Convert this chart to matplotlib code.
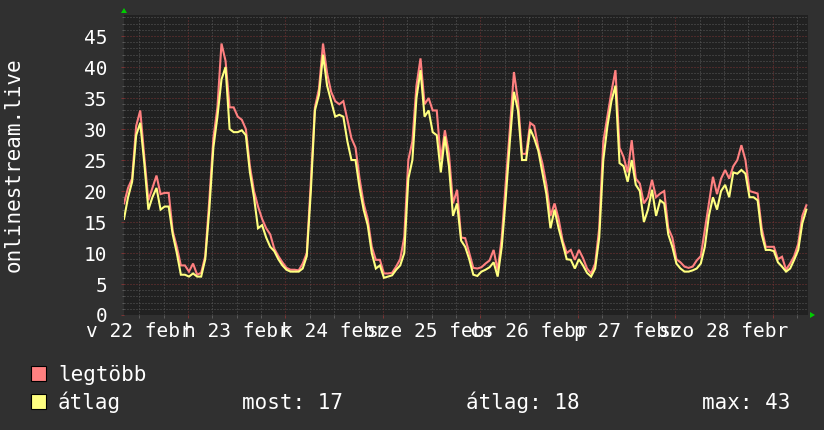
import numpy as np
import matplotlib
matplotlib.use("Agg")
import matplotlib.pyplot as plt
from matplotlib.patches import Rectangle, Polygon
from matplotlib.ticker import MultipleLocator, FixedLocator, NullFormatter

# ---- data (hourly samples starting 22 Feb 08:15) ----
start_hour = 8.25  # time of day at left edge of plot
legtobb = [18, 20.5, 22, 30.5, 33, 25.5, 18.5, 20.5, 22.5, 19.5,
           19.7, 19.7, 13.5, 11, 8, 8, 7, 8.3, 6.5, 6.8,
           9.5, 18.5, 28.5, 33.5, 43.8, 41, 33.5, 33.5, 32, 31.5,
           30, 24, 20, 17.5, 15.5, 14, 13, 10.7, 9.5, 8.5,
           7.6, 7.3, 7.3, 7.2, 8.3, 10, 21.5, 33.5, 36.5, 43.8,
           39, 36, 34.5, 34, 34.5, 31.5, 28.5, 27, 22, 18,
           15.5, 11, 8.9, 8.9, 6.7, 6.7, 6.8, 7.8, 9, 12.6,
           25, 28, 37, 41.4, 34, 35, 33, 33, 25, 29.8,
           26, 18, 20.2, 12.5, 12.4, 10, 7.6, 7.5, 7.7, 8.3,
           8.8, 10.5, 7.2, 12.5, 21.5, 30, 39.2, 34.5, 26, 26,
           31, 30.5, 27, 24.5, 21, 16, 18, 15.5, 12, 10,
           10.5, 8.9, 10.5, 9.2, 7.5, 6.7, 8.3, 14, 28, 32,
           36, 39.5, 27, 25.5, 23, 28.2, 22, 21.2, 18, 19,
           21.8, 19, 19.6, 20, 14, 12.5, 9, 8.5, 7.8, 7.6,
           7.8, 8.8, 9.5, 13.7, 18, 22.3, 19.5, 22, 23.4, 22,
           24, 25, 27.4, 25, 20, 19.8, 19.6, 14, 11, 11,
           11, 9, 9.4, 7.3, 8.3, 9.5, 11.5, 16, 17.7]
atlag = [15.5, 19, 21.5, 29, 31, 24.5, 17, 19, 20.5, 17,
         17.5, 17.5, 13, 10, 6.5, 6.5, 6.2, 6.7, 6.2, 6.2,
         9, 17, 27, 32, 38, 40, 30, 29.5, 29.5, 29.8,
         29, 23, 19, 14, 14.5, 12.5, 11, 10.3, 9, 8,
         7.3, 7, 7, 7, 7.5, 9.5, 20, 33, 35.5, 42,
         37, 34.5, 32, 32.3, 32, 28, 25, 25, 20.5, 17,
         14.5, 10, 7.5, 8, 6, 6.2, 6.4, 7.3, 8, 10,
         22, 25, 35, 39.5, 32, 33, 29.5, 29, 23, 28.8,
         24, 16, 18, 12, 11, 9, 6.5, 6.3, 7, 7.3,
         7.7, 8.5, 6.2, 11, 19, 28, 36, 33, 25, 25,
         30, 28.5, 26.5, 23, 19.5, 14, 17, 14, 11.5, 9,
         8.9, 7.5, 9, 8, 6.8, 6.2, 7.5, 12.5, 25, 30.4,
         34.5, 37, 24.5, 24, 21.5, 25, 21, 20, 15, 17,
         20.2, 16, 18.5, 18, 13, 11, 8.3, 7.5, 7, 7,
         7.2, 7.5, 8.3, 11, 16, 19, 17, 20, 21, 19,
         23, 22.8, 23.4, 22.8, 19, 19, 18.5, 13, 10.5, 10.5,
         10.3, 8.5, 7.8, 7, 7.5, 8.9, 10.5, 14.8, 17]
hours = np.arange(len(atlag))
day_labels = ["v 22 febr", "h 23 febr", "k 24 febr", "sze 25 febr",
              "cs 26 febr", "p 27 febr", "szo 28 febr"]
y_label = "onlinestream.live"
legend_names = ["legtöbb", "átlag"]
stats = ["most: 17", "átlag: 18", "max: 43"]
yticks = [0, 5, 10, 15, 20, 25, 30, 35, 40, 45]

# ---- styling ----
W, H = 824, 430
BG = "#303030"
PLOT_BG = "#212121"
RED = "#FF8080"
YEL = "#FFFF80"
MINOR = "#5a5a5a"
MAJOR = "#7a3434"
MONO = "DejaVu Sans Mono"

fig = plt.figure(figsize=(W / 100, H / 100), dpi=100, facecolor=BG)
ax = fig.add_axes([124 / W, 115 / H, 684 / W, 300 / H])
ax.set_facecolor(PLOT_BG)

def fx(x):
    return x / W

def fy(y):
    return 1 - y / H

xmax = 7 * 24 + 0.4
ax.set_xlim(0, xmax)
ax.set_ylim(0, 48.4)

midnights = [24 * k - start_hour for k in range(1, 8)]
six_hours = [6 * k - start_hour for k in range(2, 30) if 0 < 6 * k - start_hour < xmax]
ax.xaxis.set_major_locator(FixedLocator(midnights))
ax.xaxis.set_minor_locator(FixedLocator(six_hours))
ax.xaxis.set_major_formatter(NullFormatter())
ax.yaxis.set_minor_locator(MultipleLocator(1))

dash = (0, (1, 2))
ax.grid(which="minor", color=MINOR, lw=0.72, ls=dash)
ax.grid(which="major", color=MAJOR, lw=0.72, ls=dash)
ax.set_axisbelow(True)

for s in ax.spines.values():
    s.set_visible(False)

ax.tick_params(axis="x", which="both", direction="out", length=2.2,
               width=0.72, labelbottom=False)
ax.tick_params(axis="x", which="major", color=MAJOR)
ax.tick_params(axis="x", which="minor", color=MINOR)
ax.set_yticks(yticks)
ax.set_yticklabels([str(v) for v in yticks], family=MONO)
ax.tick_params(axis="y", which="major", direction="out", length=2.2,
               width=0.72, color=MAJOR, pad=10, labelcolor="white",
               labelsize=14)
ax.tick_params(axis="y", which="minor", direction="out", length=1.5,
               width=0.72, color=MINOR)

# data lines
ax.plot(hours, legtobb, color=RED, lw=1.5, solid_joinstyle="miter", zorder=3)
ax.plot(hours, atlag, color=YEL, lw=1.5, solid_joinstyle="miter", zorder=4)

# x day labels centred at noon
for k, lab in enumerate(day_labels):
    xpos = 24 * k + 12 - start_hour
    ax.text(xpos, -0.022, lab, transform=ax.get_xaxis_transform(),
            ha="center", va="top", fontsize=14, family=MONO,
            color="white", clip_on=False)

# vertical title
fig.text(fx(14), fy(165), y_label, rotation=90, ha="center", va="center",
         fontsize=15, family=MONO, color="white")

# green arrows
fig.add_artist(Polygon([(fx(121), fy(13)), (fx(127), fy(13)), (fx(124), fy(8))],
                       closed=True, transform=fig.transFigure,
                       facecolor="#00cc00", edgecolor="none"))
fig.add_artist(Polygon([(fx(810), fy(312)), (fx(810), fy(318)), (fx(815), fy(315))],
                       closed=True, transform=fig.transFigure,
                       facecolor="#00cc00", edgecolor="none"))

# legend
for i, (name, col) in enumerate(zip(legend_names, [RED, YEL])):
    top = 366 + 28 * i
    fig.add_artist(Rectangle((fx(31), fy(top + 15)), 15 / W, 15 / H,
                             transform=fig.transFigure, facecolor=col,
                             edgecolor="black", lw=0.8))
    fig.text(fx(58), fy(top + 15), name, ha="left", va="baseline",
             fontsize=15, family=MONO, color="white")

for xs, txt in zip([242, 466, 702], stats):
    fig.text(fx(xs), fy(409), txt, ha="left", va="baseline",
             fontsize=15, family=MONO, color="white")

fig.savefig("out.png", dpi=100, facecolor=BG)
